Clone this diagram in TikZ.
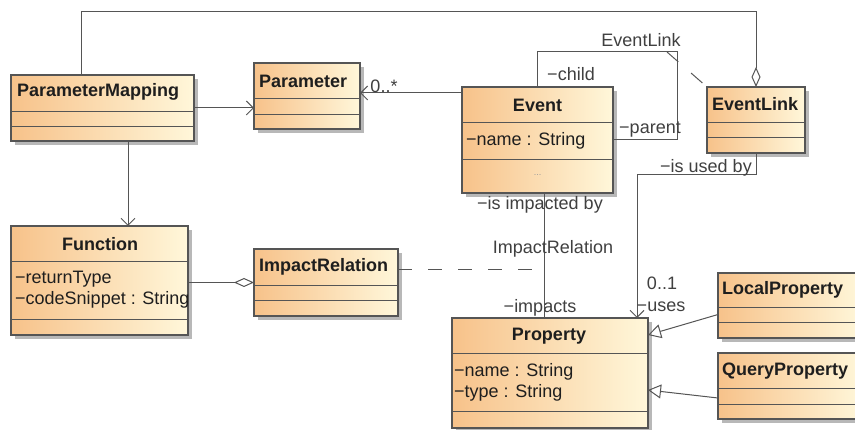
\documentclass[tikz,border=0pt]{standalone}
\usepackage{fontspec}
\setmainfont{Liberation Sans}
\usetikzlibrary{arrows.meta,calc}
\definecolor{clsleft}{RGB}{247,194,138}
\definecolor{clsright}{RGB}{255,247,218}
\definecolor{edge}{RGB}{85,85,85}
\definecolor{ink}{RGB}{30,30,30}
\tikzset{
  clsbox/.style={draw=edge, line width=1.2pt, left color=clsleft, right color=clsright,
    inner sep=0pt, outer sep=0pt, anchor=north west},
  boxshadow/.style={fill=black!28},
  divider/.style={draw=edge, line width=1pt},
  title/.style={font=\fontsize{18}{21}\selectfont\bfseries, text=ink, inner sep=0pt},
  attr/.style={font=\fontsize{18}{21}\selectfont, text=ink, inner sep=0pt},
  lbl/.style={font=\fontsize{18}{21}\selectfont, text=ink!85, inner sep=0pt},
  conn/.style={draw=edge, line width=1pt},
  navarrow/.style={-{Straight Barb[length=7pt,width=14pt]}},
  aggr/.style={-{Diamond[open,length=20pt,width=9pt]}},
  gen/.style={-{Triangle[open,length=13pt,width=14pt]}},
  assocdash/.style={dash pattern=on 14pt off 16pt},
}
% class box: name, x1, y1, x2, y2, first divider y, second divider y
\newcommand\umlbox[7]{%
  \fill[boxshadow] (#2+4,#3+4) rectangle (#4+4,#5+4);
  \node[clsbox, minimum width={(#4-#2)*1pt}, minimum height={(#5-#3)*1pt}] (#1) at (#2,#3) {};
  \draw[divider] (#2,#6) -- (#4,#6);
  \draw[divider] (#2,#7) -- (#4,#7);
}
\begin{document}
\begin{tikzpicture}[x=1pt,y=-1pt]
\useasboundingbox (0,0) rectangle (855,430);
\fill[white] (0,0) rectangle (855,430);

% classes
\umlbox{pm}{11}{75}{194}{141}{112}{127}
\umlbox{par}{254}{63}{360}{129}{99}{115}
\umlbox{ev}{462}{87}{613}{193}{123}{160}
\umlbox{el}{707}{87}{805}{153}{123}{138}
\umlbox{fn}{11}{226}{188}{335}{262}{320}
\umlbox{ir}{254}{249}{398}{316}{286}{301}
\umlbox{prop}{452}{318}{648}{428}{354}{412}
\umlbox{lp}{718}{273}{862}{338}{308}{323}
\umlbox{qp}{718}{353}{862}{419}{389}{405}

% class titles and attributes
\node[title, anchor=west] (pmT) at (17,92) {ParameterMapping};
\node[title, anchor=west] (parT) at (259,81) {Parameter};
\node[title] (evT) at (537.5,105) {Event};
\node[attr, anchor=west] (evA) at (466,141) {−name : String};
\node[attr, text=ink!45, font=\fontsize{9}{10}\selectfont] (evO) at (537.5,175) {...};
\node[title, anchor=west] (elT) at (712,104) {EventLink};
\node[title] (fnT) at (100,244) {Function};
\node[attr, anchor=west] (fnA) at (15,279) {−returnType};
\node[attr, anchor=west] (fnB) at (15,300) {−codeSnippet : String};
\node[title, anchor=west] (irT) at (259,267) {ImpactRelation};
\node[title] (propT) at (549,336) {Property};
\node[attr, anchor=west] (propA) at (454,372) {−name : String};
\node[attr, anchor=west] (propB) at (454,393) {−type : String};
\node[title, anchor=west] (lpT) at (722,290) {LocalProperty};
\node[title, anchor=west] (qpT) at (722,371) {QueryProperty};

% helper points on the class borders
\coordinate (pmtop) at ($(pm.north west)+(70,0)$);
\coordinate (pmbot) at ($(pm.south west)+(117,0)$);
\coordinate (evbot) at ($(ev.south west)+(82,0)$);
\coordinate (evtop) at ($(ev.north west)+(75,0)$);
\coordinate (selfc) at ($(ev.north east)+(64,-35)$);
\coordinate (proptop) at ($(prop.north west)+(185,0)$);

% ParameterMapping aggregated by EventLink
\draw[conn, aggr] (pmtop) -- ++(0,-63) -| (el.north);
% ParameterMapping navigations
\draw[conn, navarrow] (pm.east) -- (pm.east -| par.west);
\draw[conn, navarrow] (pmbot) -- (pmbot |- fn.north);
% Event to Parameter
\draw[conn, navarrow] ([yshift=3pt]par.east -| ev.west) -- ([yshift=3pt]par.east);
% Event self association (child / parent) with association class EventLink
\draw[conn] (evtop) |- (selfc) |- (ev.east);
\draw[conn, dash pattern=on 15pt off 17pt] ($(selfc)+(-10,0)$) -- (el.north west);
% EventLink uses Property
\draw[conn, navarrow] (el.south) -- ++(0,22) -| (proptop);
% Event impacted by Property, association class ImpactRelation
\draw[conn] (evbot) -- (evbot |- prop.north);
\draw[conn, assocdash] ([yshift=12.5pt]ir.east) -- ([yshift=12.5pt]ir.east -| evbot);
% Function aggregated by ImpactRelation
\draw[conn, aggr] (ir.west -| fn.east) -- (ir.west);
% generalizations
\draw[conn, gen] ([yshift=-9pt]lp.west) -- ($(prop.north east)+(0,17)$);
\draw[conn, gen] ([yshift=-12pt]qp.west) -- ($(prop.north east)+(0,72)$);

% connector labels
\node[lbl] (l0s) at (384,86) {0..*};
\node[lbl] (lelk) at (641,40) {EventLink};
\node[lbl] (lchild) at (571,74) {−child};
\node[lbl] (lpar) at (650,130) {−parent};
\node[lbl] (lused) at (706,168) {−is used by};
\node[lbl] (limpby) at (540,205) {−is impacted by};
\node[lbl] (lir) at (553,249) {ImpactRelation};
\node[lbl] (l01) at (662,283) {0..1};
\node[lbl] (luses) at (661,307) {−uses};
\node[lbl] (limp) at (540,308) {−impacts};
\end{tikzpicture}
\end{document}
